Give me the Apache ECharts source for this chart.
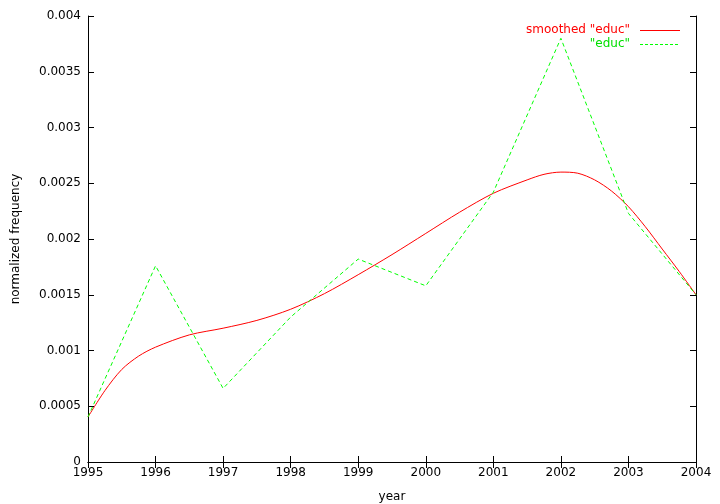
<!DOCTYPE html>
<html><head><meta charset="utf-8">
<script src="https://cdn.jsdelivr.net/npm/echarts@6/dist/echarts.min.js"></script>
<style>html,body{margin:0;padding:0;background:#fff}#c{width:720px;height:504px}</style>
</head><body><div id="c"></div>
<script>
const years = [1995,1996,1997,1998,1999,2000,2001,2002,2003,2004];
const educ = [0.000404,0.00176,0.00066,0.0013,0.00182,0.00158,0.00242,0.0038,0.00223,0.0015];
const smoothX = [1995,1995.25,1995.5,1995.75,1996,1996.5,1997,1997.5,1998,1998.5,1999,1999.5,2000,2000.5,2001,2001.5,2001.75,2002,2002.25,2002.5,2002.75,2003,2003.25,2003.5,2003.75,2004];
const smoothY = [0.000404,0.00064,0.00083,0.00095,0.00103,0.00114,0.0012,0.00127,0.00137,0.00151,0.00168,0.00186,0.00205,0.00224,0.00241,0.00253,0.00258,0.0026,0.00259,0.00253,0.00243,0.00229,0.00211,0.00191,0.00171,0.0015];
const yTicks = [0,0.0005,0.001,0.0015,0.002,0.0025,0.003,0.0035,0.004];
const seriesNames = ['smoothed "educ"','"educ"'];
const FONT = 'DejaVu Sans';
const chart = echarts.init(document.getElementById('c'));
const axisLine = {show:true, lineStyle:{color:'#000', width:1}};
chart.setOption({
  animation:false,
  textStyle:{fontFamily:FONT},
  grid:{left:88, right:24, top:16, bottom:42, containLabel:false, outerBoundsMode:'none'},
  graphic:[
    {type:'text', right:90, top:24, style:{text:seriesNames[0], fill:'#ff0000', font:'12px "DejaVu Sans"'}},
    {type:'line', shape:{x1:640,y1:30.5,x2:680,y2:30.5}, style:{stroke:'#ff0000', lineWidth:1}},
    {type:'text', right:90, top:38, style:{text:seriesNames[1], fill:'#00e000', font:'12px "DejaVu Sans"'}},
    {type:'line', shape:{x1:640,y1:44.5,x2:680,y2:44.5}, style:{stroke:'#00ff00', lineWidth:1, lineDash:[3,2]}}
  ],
  xAxis:[{
    type:'value', min:1995, max:2004, interval:1,
    name:'year', nameLocation:'middle', nameGap:29,
    nameTextStyle:{fontFamily:FONT, fontSize:12, color:'#000'},
    axisLine:axisLine, axisTick:{show:true, inside:true, length:6, lineStyle:{color:'#000'}},
    axisLabel:{color:'#000', fontSize:12, fontFamily:FONT, margin:5, formatter:v=>String(v)},
    splitLine:{show:false}
  },{
    type:'value', min:1995, max:2004, interval:1, position:'top',
    axisLine:axisLine, axisTick:{show:true, inside:true, length:6, lineStyle:{color:'#000'}},
    axisLabel:{show:false}, splitLine:{show:false}
  }],
  yAxis:[{
    type:'value', min:0, max:0.004, interval:0.0005,
    name:'normalized frequency', nameLocation:'middle', nameGap:66, nameRotate:90,
    nameTextStyle:{fontFamily:FONT, fontSize:12, color:'#000'},
    axisLine:axisLine, axisTick:{show:true, inside:true, length:6, lineStyle:{color:'#000'}},
    axisLabel:{color:'#000', fontSize:12, fontFamily:FONT, margin:7,
      formatter:v=>String(parseFloat(v.toFixed(4)))},
    splitLine:{show:false}
  },{
    type:'value', min:0, max:0.004, interval:0.0005, position:'right',
    axisLine:axisLine, axisTick:{show:true, inside:true, length:6, lineStyle:{color:'#000'}},
    axisLabel:{show:false}, splitLine:{show:false}
  }],
  series:[{
    name:seriesNames[0], type:'line', smooth:0.3, symbol:'none',
    data:smoothX.map((x,i)=>[x,smoothY[i]]),
    lineStyle:{color:'#ff0000', width:1}, itemStyle:{color:'#ff0000'}
  },{
    name:seriesNames[1], type:'line', symbol:'none',
    data:years.map((x,i)=>[x,educ[i]]),
    lineStyle:{color:'#00ff00', width:1, type:[4,3]}, itemStyle:{color:'#00ff00'}
  }]
});
</script></body></html>
